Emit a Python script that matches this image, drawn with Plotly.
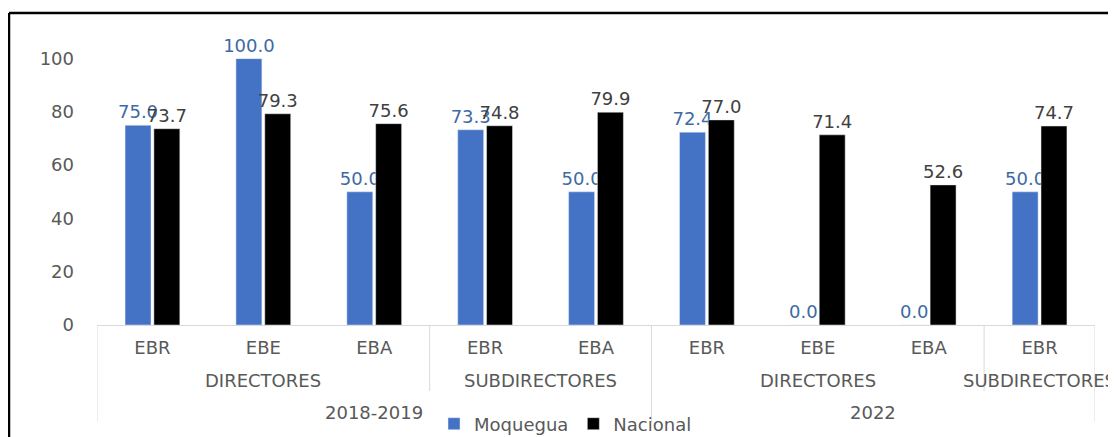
import plotly.graph_objects as go

years = ["2018-2019", "2022"]
roles = ["DIRECTORES", "SUBDIRECTORES", "DIRECTORES", "SUBDIRECTORES"]
role_year = ["2018-2019", "2018-2019", "2022", "2022"]
role_counts = [3, 2, 3, 1]
levels = ["EBR", "EBE", "EBA", "EBR", "EBA", "EBR", "EBE", "EBA", "EBR"]
moquegua = [75.0, 100.0, 50.0, 73.3, 50.0, 72.4, 0.0, 0.0, 50.0]
nacional = [73.7, 79.3, 75.6, 74.8, 79.9, 77.0, 71.4, 52.6, 74.7]
yticks = [0, 20, 40, 60, 80, 100]

FONT = "DejaVu Sans"
GRAY = "#595959"
LINE = "#d9d9d9"
FS = 18

xpos = list(range(len(levels)))

fig = go.Figure()
fig.add_trace(go.Bar(
    x=xpos, y=moquegua, name="Moquegua", marker_color="#4472C4",
    text=[f"{v:.1f}" for v in moquegua], textposition="outside", constraintext="none",
    textfont=dict(family=FONT, size=FS, color="#3d6aa3"), cliponaxis=False,
))
fig.add_trace(go.Bar(
    x=xpos, y=nacional, name="Nacional", marker_color="#000000",
    text=[f"{v:.1f}" for v in nacional], textposition="outside", constraintext="none",
    textfont=dict(family=FONT, size=FS, color="#404040"), cliponaxis=False,
))

# page body has an 8px margin; target pixel coords are shifted by OFF
OFF = 8
W, H = 1116, 437
ml = 97 - OFF
mt = 32 - OFF
plot_bottom = 325 - OFF
mb = H - plot_bottom
pw = 1095 - 97
mr = W - ml - pw
ph = plot_bottom - mt

def py(pix):
    return (325 - pix) / ph

def px(pix):
    return (pix - 97) / pw

shapes = []
annotations = []

# role group labels and dividers
start = 0
boundaries = [-0.5]
for r, c in zip(roles, role_counts):
    center = start + (c - 1) / 2
    annotations.append(dict(x=center, y=py(380), xref="x", yref="paper", text=r,
                            showarrow=False, yanchor="middle",
                            font=dict(family=FONT, size=FS, color=GRAY)))
    start += c
    boundaries.append(start - 0.5)

# year labels
year_bounds = {}
s = 0
for ry, c in zip(role_year, role_counts):
    year_bounds.setdefault(ry, [s, s + c])
    year_bounds[ry][1] = s + c
    s += c
year_edges = set()
for yname in years:
    a, b = year_bounds[yname]
    annotations.append(dict(x=(a + b - 1) / 2, y=py(412), xref="x", yref="paper", text=yname,
                            showarrow=False, yanchor="middle",
                            font=dict(family=FONT, size=FS, color=GRAY)))
    year_edges.add(a - 0.5)
    year_edges.add(b - 0.5)

for bx in boundaries:
    bottom = py(422) if bx in year_edges else py(391)
    shapes.append(dict(type="line", xref="x", yref="paper", x0=bx, x1=bx, y0=0, y1=bottom,
                       line=dict(color=LINE, width=1)))

# black frame (top and left)
fx = px(9)
fy = py(13)
shapes.append(dict(type="line", xref="paper", yref="paper", x0=fx, x1=1.1, y0=fy, y1=fy,
                   line=dict(color="black", width=2.5)))
shapes.append(dict(type="line", xref="paper", yref="paper", x0=fx, x1=fx, y0=fy, y1=py(460),
                   line=dict(color="black", width=2.5)))

fig.update_layout(
    width=W, height=H,
    margin=dict(l=ml, r=mr, t=mt, b=mb),
    paper_bgcolor="white", plot_bgcolor="white",
    barmode="group", bargap=0.48, bargroupgap=0.1,
    font=dict(family=FONT, color=GRAY),
    xaxis=dict(range=[-0.5, len(levels) - 0.5], tickvals=xpos, ticktext=levels,
               showline=True, linecolor=LINE, linewidth=1, showgrid=False, zeroline=False,
               ticks="", tickfont=dict(family=FONT, size=FS, color=GRAY), ticklabelstandoff=6,
               automargin=False),
    yaxis=dict(range=[0, 110], tickvals=yticks, showgrid=False, zeroline=False, showline=False,
               ticks="", tickfont=dict(family=FONT, size=FS, color=GRAY), ticklabelstandoff=22,
               automargin=False),
    legend=dict(orientation="h", xref="container", yref="container",
                x=(434 - OFF) / W, y=(H - (424 - OFF)) / H, xanchor="left", yanchor="middle",
                font=dict(family=FONT, size=FS, color=GRAY), itemclick=False,
                bgcolor="rgba(0,0,0,0)", tracegroupgap=0),
    shapes=shapes, annotations=annotations,
    showlegend=True,
)

fig.write_html("out.html")
